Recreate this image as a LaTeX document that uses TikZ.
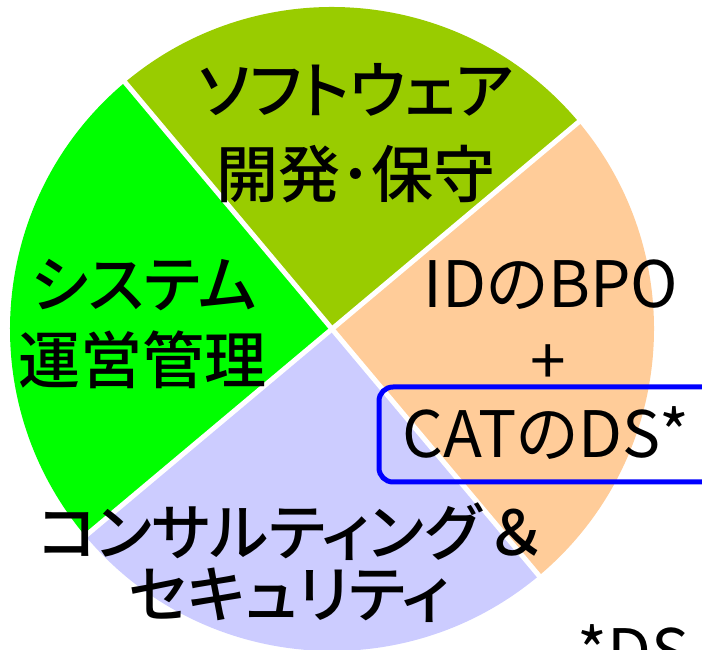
\documentclass[tikz,border=0pt]{standalone}
\usepackage{fontspec}
\usetikzlibrary{calc}
\setmainfont{Noto Sans CJK JP}[RawFeature={+palt}]
\newfontfamily\jpmed{Noto Sans CJK JP}[UprightFont=* Medium, RawFeature={+palt}]
\definecolor{cOlive}{RGB}{153,204,0}
\definecolor{cGreen}{RGB}{0,255,0}
\definecolor{cPeach}{RGB}{255,204,153}
\definecolor{cLav}{RGB}{204,204,255}
\definecolor{cBlue}{RGB}{0,0,255}
\tikzset{
  sep/.style={white, line width=5pt},
  jp/.style={font=\fontsize{62}{62}\selectfont\jpmed, anchor=base, inner sep=0pt},
  lat/.style={font=\fontsize{64}{64}\selectfont, anchor=base, inner sep=0pt},
}
\begin{document}
\begin{tikzpicture}[x=1pt,y=1pt]
\useasboundingbox (0,0) rectangle (702,650);
\coordinate (c) at (332,321);
\fill[cOlive] (c) -- ++(40:322) arc[start angle=40, end angle=130, radius=322] -- cycle;
\fill[cGreen] (c) -- ++(130:322) arc[start angle=130, end angle=220, radius=322] -- cycle;
\fill[cLav] (c) -- ++(220:322) arc[start angle=220, end angle=310, radius=322] -- cycle;
\fill[cPeach] (c) -- ++(310:322) arc[start angle=310, end angle=400, radius=322] -- cycle;
\coordinate (e1) at ($(c)+(40:323)$);
\coordinate (e2) at ($(c)+(130:323)$);
\coordinate (e3) at ($(c)+(220:323)$);
\coordinate (e4) at ($(c)+(310:323)$);
\draw[sep] (c) -- (e1);
\draw[sep] (c) -- (e2);
\draw[sep] (c) -- (e3);
\draw[sep] (c) -- (e4);
\node[jp] (sw1) at (356,536) {ソフトウェア};
\node[jp] (sw2) at (356,452) {開発･保守};
\node[jp] (sy1) at (144,342) {システム};
\node[jp] (sy2) at (143,266) {運営管理};
\node[lat] (id) at (551,342) {IDのBPO};
\node[lat] (plus) at (548,265) {+};
\node[lat] (cat) at (546,192) {CATのDS*};
\node[jp] (co1) at (290,94) {コンサルティング\,＆};
\node[jp] (co2) at (289,32) {セキュリティ};
\node[lat, anchor=base west] (ds) at (577,-26) {*DS};
\draw[cBlue, line width=5pt, rounded corners=14pt] (379,263) rectangle (725,168);
\end{tikzpicture}
\end{document}
